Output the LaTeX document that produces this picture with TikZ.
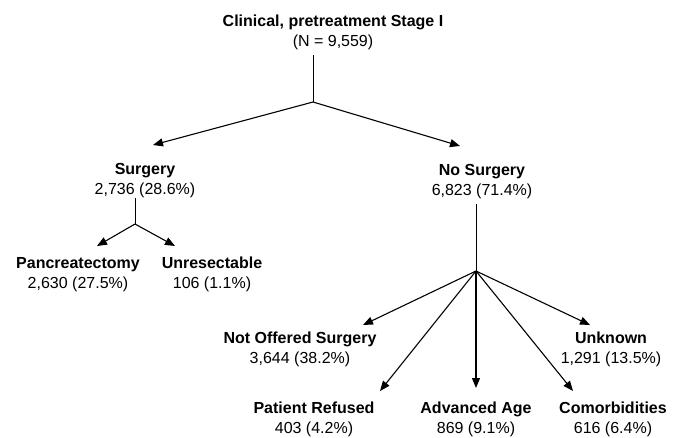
\documentclass[tikz,border=0pt]{standalone}
\usepackage{fontspec}
\setmainfont{Liberation Sans}
\usepackage{tikz}
\usetikzlibrary{arrows.meta}

\begin{document}
\begin{tikzpicture}[x=1pt,y=-1pt,
    box/.style={anchor=north,align=center,inner sep=0pt,font=\fontsize{16}{20}\selectfont},
    arr/.style={line width=1.1pt,-{Triangle[length=10pt,width=8pt]}},
    stem/.style={line width=0.9pt}]
    \useasboundingbox (0,0) rectangle (678,437);

    % Boxes
    \node[box] (title) at (333,15) {\textbf{Clinical, pretreatment Stage I}\\(N = 9,559)};
    \node[box] (surg) at (145,163) {\textbf{Surgery}\\2,736 (28.6\%)};
    \node[box] (nosurg) at (482,164) {\textbf{No Surgery}\\6,823 (71.4\%)};
    \node[box] (panc) at (78,257) {\textbf{Pancreatectomy}\\2,630 (27.5\%)};
    \node[box] (unres) at (212,257) {\textbf{Unresectable}\\106 (1.1\%)};
    \node[box] (notoff) at (300,332) {\textbf{Not Offered Surgery}\\3,644 (38.2\%)};
    \node[box] (unknown) at (611,332) {\textbf{Unknown}\\1,291 (13.5\%)};
    \node[box] (refused) at (314,402) {\textbf{Patient Refused}\\403 (4.2\%)};
    \node[box] (age) at (476,402) {\textbf{Advanced Age}\\869 (9.1\%)};
    \node[box] (comorb) at (613,402) {\textbf{Comorbidities}\\616 (6.4\%)};

    % Branch points
    \coordinate (tophub) at (313,102);
    \coordinate (surghub) at (135,224);
    \coordinate (nshub) at (476,271);

    % Stems
    \draw[stem] ([yshift=-5pt]title.south -| tophub) -- (tophub);
    \draw[stem] (surg.south -| surghub) -- (surghub);
    \draw[stem] ([yshift=-5pt]nosurg.south -| nshub) -- (nshub);

    % Arrows
    \draw[arr] (tophub) -- ([xshift=8pt,yshift=18pt]surg.north);
    \draw[arr] (tophub) -- ([xshift=-22pt,yshift=18pt]nosurg.north);
    \draw[arr] (surghub) -- ([xshift=19pt,yshift=11pt]panc.north);
    \draw[arr] (surghub) -- ([xshift=-37pt,yshift=11pt]unres.north);
    \draw[arr] (nshub) -- ([xshift=63pt,yshift=7pt]notoff.north);
    \draw[arr] (nshub) -- ([xshift=-21pt,yshift=7pt]unknown.north);
    \draw[arr] (nshub) -- ([xshift=66pt,yshift=11pt]refused.north);
    \draw[arr] (nshub) -- ([yshift=14pt]age.north);
    \draw[arr] (nshub) -- ([xshift=-40pt,yshift=11pt]comorb.north);
\end{tikzpicture}
\end{document}
